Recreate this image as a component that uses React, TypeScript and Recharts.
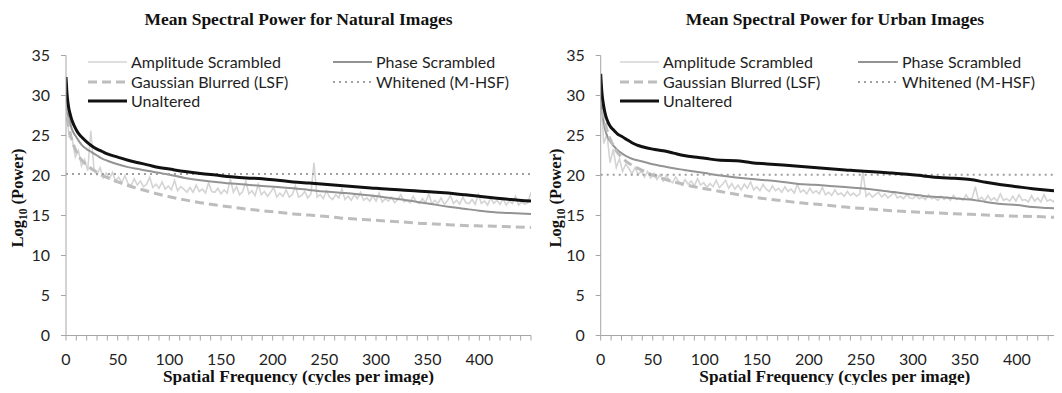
import React from 'react';
import { LineChart, Line, XAxis, YAxis } from 'recharts';

// ---------- categories / ticks ----------
const X_SMOOTH = [0, 1, 2, 3, 4, 5, 6, 8, 10, 13, 16, 20, 25, 30, 35, 40, 50, 60, 70, 80, 90, 100, 115, 130, 145, 160, 175, 190, 205, 220, 235, 250, 265, 280, 295, 310, 325, 340, 355, 370, 385, 400, 415, 430, 450];
const X_AMP = [
  0, 3, 6, 9, 12, 15, 18, 21, 24, 27, 30, 33, 36, 39, 42, 45, 48, 51, 54, 57,
  60, 63, 66, 69, 72, 75, 78, 81, 84, 87, 90, 93, 96, 99, 102, 105, 108, 111, 114, 117,
  120, 123, 126, 129, 132, 135, 138, 141, 144, 147, 150, 153, 156, 159, 162, 165, 168, 171, 174, 177,
  180, 183, 186, 189, 192, 195, 198, 201, 204, 207, 210, 213, 216, 219, 222, 225, 228, 231, 234, 237,
  240, 243, 246, 249, 252, 255, 258, 261, 264, 267, 270, 273, 276, 279, 282, 285, 288, 291, 294, 297,
  300, 303, 306, 309, 312, 315, 318, 321, 324, 327, 330, 333, 336, 339, 342, 345, 348, 351, 354, 357,
  360, 363, 366, 369, 372, 375, 378, 381, 384, 387, 390, 393, 396, 399, 402, 405, 408, 411, 414, 417,
  420, 423, 426, 429, 432, 435, 438, 441, 444, 447, 450,
];
const X_FLAT = [0, 450];
const X_TICKS = [0, 10, 20, 30, 40, 50, 60, 70, 80, 90, 100, 110, 120, 130, 140, 150, 160, 170, 180, 190, 200, 210, 220, 230, 240, 250, 260, 270, 280, 290, 300, 310, 320, 330, 340, 350, 360, 370, 380, 390, 400, 410, 420, 430, 440, 450];
const X_LABELS = [0, 50, 100, 150, 200, 250, 300, 350, 400];
const Y_TICKS = [0, 5, 10, 15, 20, 25, 30, 35];

// ---------- Natural images ----------
const NAT_AMPLITUDE = [
  29.5, 24.8, 24.6, 22.3, 23.1, 21.2, 22.0, 20.6, 25.6, 20.9,
  20.1, 21.0, 19.7, 20.3, 19.6, 20.4, 19.3, 19.8, 19.1, 20.0,
  19.0, 18.7, 19.6, 18.8, 19.3, 18.6, 18.9, 19.8, 18.5, 18.9,
  18.4, 19.2, 18.3, 18.7, 18.2, 19.4, 18.1, 18.6, 18.3, 17.9,
  18.5, 17.9, 18.8, 18.0, 18.3, 17.8, 19.1, 18.0, 17.9, 18.4,
  17.7, 18.2, 17.8, 19.6, 17.9, 18.6, 17.6, 18.0, 19.3, 17.7,
  18.1, 17.5, 18.9, 17.6, 18.0, 17.4, 17.9, 18.5, 17.3, 17.8,
  17.4, 18.2, 17.3, 17.6, 18.7, 17.3, 17.5, 18.0, 17.2, 17.7,
  21.6, 17.3, 17.6, 17.1, 18.1, 17.3, 17.0, 17.6, 17.2, 18.3,
  17.0, 17.4, 16.9, 17.6, 17.1, 17.9, 16.9, 17.2, 16.8, 17.5,
  16.8, 17.8, 16.7, 17.1, 16.8, 17.3, 16.6, 17.0, 17.6, 16.7,
  16.9, 16.6, 17.4, 16.7, 16.5, 17.1, 16.6, 17.7, 16.5, 16.9,
  16.5, 17.2, 16.4, 16.8, 17.5, 16.5, 16.9, 16.4, 17.3, 16.6,
  16.5, 17.0, 16.4, 17.6, 16.5, 16.8, 16.3, 17.2, 16.5, 16.9,
  16.4, 17.1, 16.3, 16.8, 16.5, 17.4, 16.3, 16.7, 16.4, 16.6,
  17.9,
];
const NAT_PHASE = [30.0, 28.5, 27.6, 27.0, 26.6, 26.1, 25.7, 25.2, 24.8, 24.2, 23.7, 23.3, 22.9, 22.5, 22.1, 21.85, 21.4, 21.05, 20.8, 20.55, 20.35, 20.1, 19.7, 19.4, 19.2, 19.0, 18.85, 18.7, 18.55, 18.4, 18.2, 18.0, 17.85, 17.7, 17.5, 17.25, 17.0, 16.7, 16.4, 16.1, 15.85, 15.6, 15.4, 15.3, 15.2];
const NAT_GAUSSIAN = [29.0, 27.6, 26.6, 25.9, 25.3, 24.8, 24.3, 23.6, 23.0, 22.3, 21.8, 21.3, 20.8, 20.4, 20.0, 19.75, 19.2, 18.75, 18.35, 18.0, 17.65, 17.35, 16.95, 16.6, 16.3, 16.05, 15.8, 15.6, 15.4, 15.2, 15.05, 14.9, 14.7, 14.55, 14.45, 14.3, 14.2, 14.05, 13.95, 13.85, 13.75, 13.7, 13.65, 13.6, 13.5];
const NAT_WHITENED = [20.2, 20.2];
const NAT_UNALTERED = [32.3, 30.2, 29.0, 28.2, 27.7, 27.2, 26.8, 26.2, 25.7, 25.1, 24.7, 24.2, 23.7, 23.3, 23.0, 22.7, 22.3, 21.9, 21.6, 21.3, 21.0, 20.8, 20.5, 20.25, 20.05, 19.85, 19.7, 19.6, 19.4, 19.2, 19.05, 18.9, 18.75, 18.6, 18.45, 18.3, 18.2, 18.05, 17.95, 17.8, 17.6, 17.4, 17.2, 17.0, 16.8];

// ---------- Urban images ----------
const URB_AMPLITUDE = [
  30.0, 24.0, 25.2, 21.6, 23.3, 21.0, 22.1, 20.5, 21.4, 20.9,
  20.2, 21.0, 20.1, 20.6, 19.8, 20.5, 19.7, 20.3, 19.5, 20.1,
  19.3, 20.0, 19.4, 19.1, 19.8, 19.2, 18.8, 19.5, 18.9, 19.3,
  18.7, 19.6, 18.8, 19.1, 18.5, 19.0, 18.6, 19.4, 18.5, 18.9,
  19.4, 18.4, 19.0, 18.3, 18.8, 18.2, 18.9, 18.4, 19.2, 18.2,
  18.6, 18.1, 18.9, 18.3, 18.0, 18.7, 18.1, 18.4, 17.9, 18.6,
  18.0, 18.3, 17.8, 18.9, 17.9, 18.2, 17.7, 18.4, 17.8, 18.1,
  17.7, 18.5, 17.6, 17.9, 17.5, 18.2, 17.6, 17.8, 17.4, 18.0,
  17.5, 17.8, 17.4, 17.7, 20.5, 17.4, 17.8, 17.3, 17.6, 17.9,
  17.3, 17.7, 17.2, 17.5, 17.9, 17.2, 17.4, 17.1, 17.6, 17.2,
  17.1, 17.5, 17.1, 17.3, 17.0, 17.6, 17.1, 17.2, 16.9, 17.4,
  17.0, 17.3, 16.9, 17.5, 17.0, 17.2, 16.9, 17.6, 17.0, 17.2,
  18.6, 16.9, 17.3, 16.8, 17.5, 16.9, 17.2, 16.8, 17.7, 16.9,
  17.1, 16.8, 17.4, 16.8, 17.6, 16.9, 17.0, 16.7, 17.5, 16.8,
  17.2, 16.7, 17.6, 16.8, 17.0, 16.7, 17.4, 16.7, 17.1, 16.8,
  16.9,
];
const URB_PHASE = [30.5, 28.7, 27.5, 26.6, 25.9, 25.4, 25.0, 24.5, 24.1, 23.6, 23.2, 22.8, 22.4, 22.1, 21.9, 21.75, 21.4, 21.15, 20.9, 20.7, 20.5, 20.3, 20.0, 19.75, 19.55, 19.4, 19.2, 18.95, 18.85, 18.7, 18.55, 18.4, 18.2, 17.95, 17.7, 17.45, 17.3, 17.15, 17.0, 16.7, 16.45, 16.3, 16.05, 15.95, 15.8];
const URB_GAUSSIAN = [30.0, 28.9, 28.0, 27.3, 26.7, 26.2, 25.7, 24.9, 24.3, 23.5, 22.9, 22.3, 21.7, 21.3, 20.95, 20.65, 20.05, 19.6, 19.2, 18.9, 18.6, 18.35, 18.0, 17.65, 17.35, 17.05, 16.85, 16.6, 16.45, 16.25, 16.05, 15.9, 15.75, 15.6, 15.5, 15.4, 15.3, 15.22, 15.15, 15.05, 14.97, 14.92, 14.88, 14.8, 14.72];
const URB_WHITENED = [20.1, 20.1];
const URB_UNALTERED = [32.7, 30.6, 29.4, 28.6, 27.9, 27.4, 27.0, 26.4, 26.0, 25.6, 25.2, 24.9, 24.5, 24.1, 23.8, 23.6, 23.3, 23.1, 22.8, 22.5, 22.3, 22.15, 21.9, 21.85, 21.6, 21.45, 21.3, 21.15, 21.0, 20.85, 20.7, 20.55, 20.45, 20.3, 20.15, 19.95, 19.75, 19.65, 19.5, 19.15, 18.85, 18.6, 18.35, 18.15, 17.95];

const build = (xs: number[], ys: number[]) => xs.map((x, i) => ({ x, y: ys[i] }));

const SANS = 'Lato, "Open Sans", sans-serif';
const SERIF = '"Liberation Serif", "Times New Roman", serif';
const AXIS = '#a6a6a6';
const TEXT = '#1f1f1f';

const STYLES = {
  amp: { stroke: '#d4d4d4', width: 1.6, dash: undefined as string | undefined },
  phase: { stroke: '#939393', width: 2, dash: undefined as string | undefined },
  gauss: { stroke: '#bdbdbd', width: 3, dash: '9 5' },
  white: { stroke: '#a0a0a0', width: 2, dash: '2 4' },
  unalt: { stroke: '#111111', width: 3, dash: undefined as string | undefined },
};

const XTick = (props: any) => {
  const { x, y, payload } = props;
  if (X_LABELS.indexOf(payload.value) < 0) return <g />;
  return (
    <text x={x} y={y} dy="0.71em" textAnchor="middle" fontFamily={SANS} fontSize={16} fill={TEXT}>
      {payload.value}
    </text>
  );
};

const Sample = ({ kind, w }: { kind: keyof typeof STYLES; w: number }) => {
  const s = STYLES[kind];
  return (
    <svg width={w} height={8} style={{ display: 'block' }}>
      <line x1={0} y1={4} x2={w} y2={4} stroke={s.stroke} strokeWidth={s.width} strokeDasharray={s.dash} />
    </svg>
  );
};

type PanelProps = {
  left: number;
  width: number;
  marginLeft: number;
  title: string;
  yLabelX: number;
  legend: { c1s: number; c1t: number; c2s: number; c2t: number };
  amp: number[];
  phase: number[];
  gauss: number[];
  white: number[];
  unalt: number[];
};

const ROWS = [62, 81.5, 101];

function Panel(p: PanelProps) {
  const plotLeft = p.left + p.marginLeft + 56;
  const plotRight = p.left + p.width - 9;
  const center = (plotLeft + plotRight) / 2;
  const legendItems: { kind: keyof typeof STYLES; label: string; s: number; t: number; row: number }[] = [
    { kind: 'amp', label: 'Amplitude Scrambled', s: p.legend.c1s, t: p.legend.c1t, row: 0 },
    { kind: 'phase', label: 'Phase Scrambled', s: p.legend.c2s, t: p.legend.c2t, row: 0 },
    { kind: 'gauss', label: 'Gaussian Blurred (LSF)', s: p.legend.c1s, t: p.legend.c1t, row: 1 },
    { kind: 'white', label: 'Whitened (M-HSF)', s: p.legend.c2s, t: p.legend.c2t, row: 1 },
    { kind: 'unalt', label: 'Unaltered', s: p.legend.c1s, t: p.legend.c1t, row: 2 },
  ];
  return (
    <>
      <div style={{ position: 'absolute', left: p.left, top: 0 }}>
        <LineChart width={p.width} height={393} margin={{ top: 55.5, right: 9, bottom: 27.5, left: p.marginLeft }}>
          <XAxis
            type="number"
            dataKey="x"
            domain={[0, 450]}
            ticks={X_TICKS}
            interval={0}
            allowDataOverflow
            height={30}
            tickSize={5}
            tickMargin={13}
            tick={<XTick />}
            stroke={AXIS}
            axisLine={{ stroke: AXIS }}
            tickLine={{ stroke: AXIS }}
          />
          <YAxis
            type="number"
            domain={[0, 35]}
            ticks={Y_TICKS}
            interval={0}
            width={56}
            tickSize={5}
            tickMargin={11}
            stroke={AXIS}
            axisLine={{ stroke: AXIS }}
            tickLine={{ stroke: AXIS }}
            tick={{ fontFamily: SANS, fontSize: 16, fill: TEXT }}
          />
          <Line data={build(X_AMP, p.amp)} dataKey="y" type="linear" stroke={STYLES.amp.stroke} strokeWidth={STYLES.amp.width} dot={false} isAnimationActive={false} />
          <Line data={build(X_SMOOTH, p.phase)} dataKey="y" type="monotone" stroke={STYLES.phase.stroke} strokeWidth={STYLES.phase.width} dot={false} isAnimationActive={false} />
          <Line data={build(X_SMOOTH, p.gauss)} dataKey="y" type="monotone" stroke={STYLES.gauss.stroke} strokeWidth={STYLES.gauss.width} strokeDasharray={STYLES.gauss.dash} dot={false} isAnimationActive={false} />
          <Line data={build(X_FLAT, p.white)} dataKey="y" type="linear" stroke={STYLES.white.stroke} strokeWidth={STYLES.white.width} strokeDasharray={STYLES.white.dash} dot={false} isAnimationActive={false} />
          <Line data={build(X_SMOOTH, p.unalt)} dataKey="y" type="monotone" stroke={STYLES.unalt.stroke} strokeWidth={STYLES.unalt.width} dot={false} isAnimationActive={false} />
        </LineChart>
      </div>
      <div style={{ position: 'absolute', left: center, top: 19, transform: 'translate(-50%, -50%)', whiteSpace: 'nowrap', fontFamily: SERIF, fontWeight: 'bold', fontSize: 17.5, lineHeight: '20px', color: '#111' }}>
        {p.title}
      </div>
      <div style={{ position: 'absolute', left: center, top: 376.5, transform: 'translate(-50%, -50%)', whiteSpace: 'nowrap', fontFamily: SERIF, fontWeight: 'bold', fontSize: 17.3, lineHeight: '14px', height: 14, color: '#111' }}>
        Spatial Frequency (cycles per image)
      </div>
      <div style={{ position: 'absolute', left: p.yLabelX, top: 198, transform: 'translate(-50%, -50%) rotate(-90deg)', whiteSpace: 'nowrap', fontFamily: SERIF, fontWeight: 'bold', fontSize: 16.5, color: '#111', lineHeight: '18px' }}>
        Log<span style={{ fontSize: 11.5, position: 'relative', top: 4 }}>10</span> (Power)
      </div>
      {legendItems.map((it) => (
        <React.Fragment key={it.label}>
          <div style={{ position: 'absolute', left: it.s, top: ROWS[it.row] - 4 }}>
            <Sample kind={it.kind} w={it.t - it.s - 4} />
          </div>
          <div style={{ position: 'absolute', left: it.t, top: ROWS[it.row], transform: 'translateY(-50%)', whiteSpace: 'nowrap', fontFamily: SANS, fontSize: 16, color: TEXT, lineHeight: '18px' }}>
            {it.label}
          </div>
        </React.Fragment>
      ))}
    </>
  );
}

export default function App() {
  return (
    <div style={{ position: 'relative', margin: -8, width: 1062, height: 393, overflow: 'hidden', background: '#fff' }}>
      <Panel
        left={0}
        width={540}
        marginLeft={10}
        title="Mean Spectral Power for Natural Images"
        yLabelX={18}
        legend={{ c1s: 88, c1t: 131, c2s: 333, c2t: 376 }}
        amp={NAT_AMPLITUDE}
        phase={NAT_PHASE}
        gauss={NAT_GAUSSIAN}
        white={NAT_WHITENED}
        unalt={NAT_UNALTERED}
      />
      <Panel
        left={534}
        width={544}
        marginLeft={10.7}
        title="Mean Spectral Power for Urban Images"
        yLabelX={556}
        legend={{ c1s: 620, c1t: 663, c2s: 858, c2t: 902 }}
        amp={URB_AMPLITUDE}
        phase={URB_PHASE}
        gauss={URB_GAUSSIAN}
        white={URB_WHITENED}
        unalt={URB_UNALTERED}
      />
    </div>
  );
}
